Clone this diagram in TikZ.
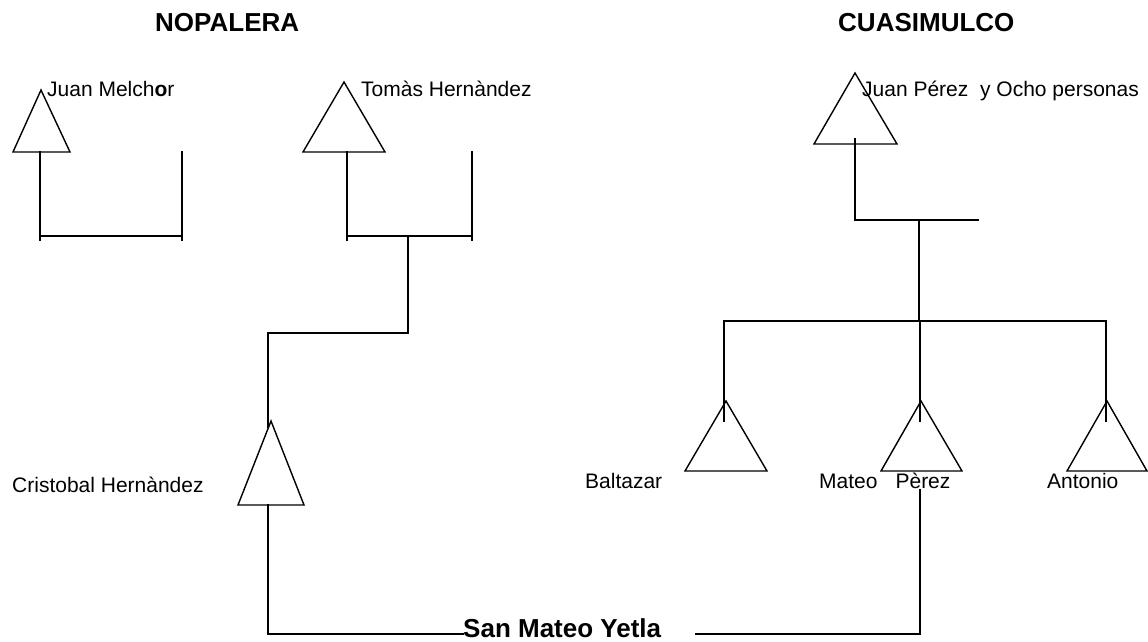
\documentclass[tikz,border=0pt]{standalone}
\usepackage{fontspec}
\setmainfont{Liberation Sans}
\begin{document}
\begin{tikzpicture}[x=1pt,y=-1pt,
  ln/.style={line width=1.4pt, line cap=rect},
  lbl/.style={anchor=base west, inner sep=0pt, font=\fontsize{21}{21}\selectfont},
  ttl/.style={anchor=base west, inner sep=0pt, font=\fontsize{26}{26}\selectfont\bfseries}]
\useasboundingbox (0,0) rectangle (1148,641);
% titles
\node[ttl] (t1) at (155,31) {NOPALERA};
\node[ttl] (t2) at (838,31) {CUASIMULCO};
% labels
\node[lbl] (jm) at (47,96) {Juan Melch\textbf{o}r};
\node[lbl] (th) at (361,96) {Tomàs Hernàndez};
\node[lbl] (jp) at (862,96) {Juan Pérez\ \ y Ocho personas};
\node[lbl] (ch) at (12,492) {Cristobal Hernàndez};
\node[lbl] (ba) at (585,488) {Baltazar};
\node[lbl] (mp) at (819,488) {Mateo\hspace{18pt}Pèrez};
\node[lbl] (an) at (1047,488) {Antonio};
\node[ttl] (sm) at (463,637) {San Mateo Yetla};
% triangles
\draw[ln] (41,90) coordinate (jmA) -- (70,152) -- (13,152) -- cycle;
\draw[ln] (344,82) coordinate (thA) -- (385,152) -- (303,152) -- cycle;
\draw[ln] (855,73) coordinate (jpA) -- (897,144) -- (814,144) -- cycle;
\draw[ln] (271,421) coordinate (chA) -- (304,505) -- (238,505) -- cycle;
\draw[ln] (726,401) coordinate (baA) -- (767,471) -- (685,471) -- cycle;
\draw[ln] (921,401) coordinate (mpA) -- (962,471) -- (881,471) -- cycle;
\draw[ln] (1107,401) coordinate (anA) -- (1147,471) -- (1067,471) -- cycle;
% Juan Melchor
\coordinate (jmB) at (40,152);
\coordinate (jmR) at (182,152);
\draw[ln] (jmB) -- (40,240);
\draw[ln] (jmR) -- (182,240);
\draw[ln] (40,236) -- (182,236);
% Tomas
\coordinate (thB) at (347,152);
\coordinate (thR) at (472,152);
\draw[ln] (thB) -- (347,240);
\draw[ln] (thR) -- (472,240);
\draw[ln] (347,236) -- (472,236);
\coordinate (thM) at (408,236);
\coordinate (chT) at (268,427);
\draw[ln] (thM) |- (268,333) -- (chT);
% Cristobal to San Mateo
\coordinate (chB) at (268,505);
\draw[ln] (chB) |- (463,634);
\coordinate (mpB) at (920,490);
\draw[ln] (mpB) |- (696,634);
% Juan Perez
\coordinate (jpB) at (855,139);
\draw[ln] (jpB) |- (978,220);
\coordinate (jpM) at (919,220);
\draw[ln] (jpM) -- (919,321);
\draw[ln] (724,321) -- (1106,321);
\draw[ln] (724,321) -- (724,421);
\draw[ln] (920,321) -- (920,421);
\draw[ln] (1106,321) -- (1106,421);
\end{tikzpicture}
\end{document}
